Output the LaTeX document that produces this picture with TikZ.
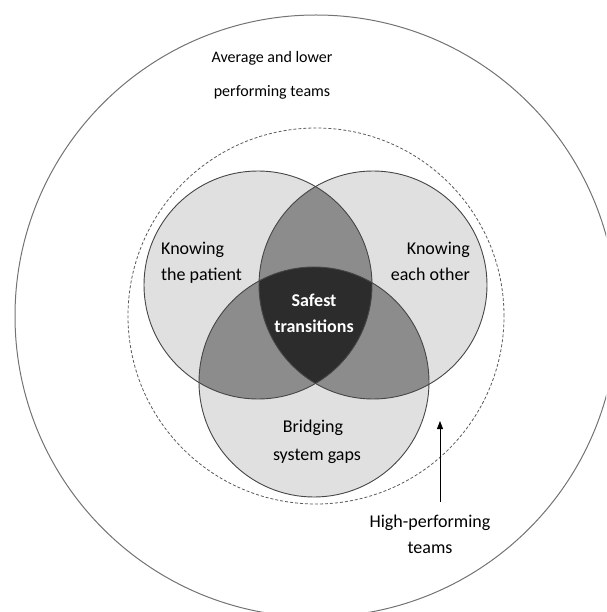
\documentclass[tikz,border=0pt]{standalone}
\usepackage{fontspec}
\setmainfont{Carlito}
\usetikzlibrary{arrows.meta}
\definecolor{vennlight}{RGB}{224,224,224}
\definecolor{vennmid}{RGB}{140,140,140}
\definecolor{venndark}{RGB}{44,44,44}
\definecolor{venline}{RGB}{70,70,70}
\definecolor{outerline}{RGB}{115,115,115}
\definecolor{dashline}{RGB}{90,90,90}
\begin{document}
\begin{tikzpicture}[x=1pt,y=-1pt,
  vennset/.style={draw=venline,line width=0.9pt},
  lbl/.style={inner sep=0pt,font=\fontsize{18}{22}\selectfont,text=black},
  toplbl/.style={inner sep=0pt,font=\fontsize{16}{20}\selectfont,text=black},
  innerlbl/.style={inner sep=0pt,font=\fontsize{18}{22}\selectfont\bfseries,text=white},
  pointer/.style={draw=black,line width=0.8pt,-{Triangle[length=8pt,width=6pt]}}]
\useasboundingbox (0,0) rectangle (606,612);
\clip (0,0) rectangle (606,612);

% centres of the rings and of the three sets
\coordinate (mid) at (316,316);
\coordinate (cP) at (258,285);
\coordinate (cO) at (373,285);
\coordinate (cG) at (314,382);

% outer ring and the dashed high-performing ring
\draw[outerline,line width=1pt] (mid) circle[radius=301pt];
\draw[dashline,line width=0.8pt,dash pattern=on 3pt off 2pt] (mid) circle[radius=188pt];

% single-set areas
\fill[vennlight] (cP) circle[radius=114pt];
\fill[vennlight] (cO) circle[radius=114pt];
\fill[vennlight] (cG) circle[radius=115pt];

% pairwise overlaps
\begin{scope}
  \clip (cP) circle[radius=114pt];
  \fill[vennmid] (cO) circle[radius=114pt];
  \fill[vennmid] (cG) circle[radius=115pt];
\end{scope}
\begin{scope}
  \clip (cO) circle[radius=114pt];
  \fill[vennmid] (cG) circle[radius=115pt];
\end{scope}

% triple overlap
\begin{scope}
  \clip (cP) circle[radius=114pt];
  \clip (cO) circle[radius=114pt];
  \fill[venndark] (cG) circle[radius=115pt];
\end{scope}

% set outlines
\draw[vennset] (cP) circle[radius=114pt];
\draw[vennset] (cO) circle[radius=114pt];
\draw[vennset] (cG) circle[radius=115pt];

% labels
\node[toplbl,anchor=base] (avg1) at (272,63) {Average and lower};
\node[toplbl,anchor=base] (avg2) at (272,97) {performing teams};

\node[lbl,anchor=base west] (kp1) at (161,254) {Knowing};
\node[lbl,anchor=base west] (kp2) at (161,280) {the patient};

\node[lbl,anchor=base east] (ko1) at (470,254) {Knowing};
\node[lbl,anchor=base east] (ko2) at (470,280) {each other};

\node[innerlbl,anchor=base] (st1) at (314,306) {Safest};
\node[innerlbl,anchor=base] (st2) at (314,332.5) {transitions};

\node[lbl,anchor=base] (bg1) at (313,432) {Bridging};
\node[lbl,anchor=base] (bg2) at (317,460) {system gaps};

\node[lbl,anchor=base] (hp1) at (430,527.5) {High-performing};
\node[lbl,anchor=base] (hp2) at (430,553) {teams};

% pointer to the dashed ring
\coordinate (ptrfoot) at (440,502);
\coordinate (ptrtip) at (440,421);
\draw[pointer] (ptrfoot) -- (ptrtip);
\end{tikzpicture}
\end{document}
